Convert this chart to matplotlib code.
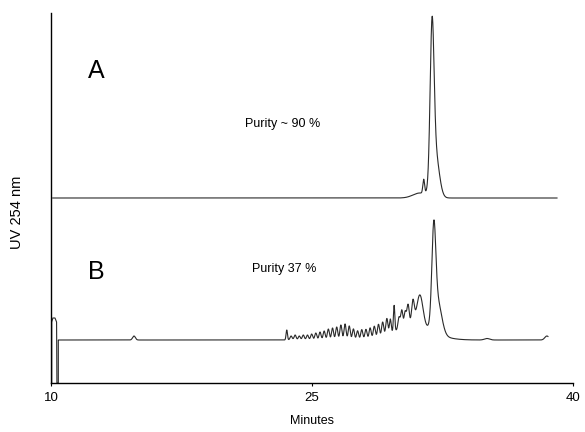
import numpy as np
import matplotlib
matplotlib.use("Agg")
import matplotlib.pyplot as plt

plt.rcParams['font.family'] = ['Liberation Sans', 'DejaVu Sans']

# trace A: baseline and peaks (retention time, height, width)
base_a = 185
a_start, a_end = 10.1, 39.08
peaks_a_t = [31.20, 31.42, 31.90, 32.08]
peaks_a_h = [5, 14, 148, 45]
peaks_a_w = [0.40, 0.05, 0.11, 0.22]

# trace B: injection spike, baseline and peaks
b_start_t = [10.04, 10.04, 10.11, 10.23, 10.32, 10.34, 10.42, 10.42]
b_start_v = [0, 61, 65, 65, 61, 0, 0, 43]
base_b = 43
b_end = 38.56
peaks_b_t = [14.77,
             23.55, 23.80, 24.03, 24.27, 24.50, 24.74, 24.98, 25.22, 25.46,
             25.70, 25.94, 26.18, 26.42, 26.66, 26.90, 27.14, 27.38, 27.62,
             27.86, 28.10, 28.34, 28.58, 28.82, 29.06, 29.30, 29.50,
             29.72, 30.00, 30.16, 30.35, 30.52, 30.80, 31.20,
             30.80, 32.00, 32.20, 35.06, 38.50]
peaks_b_h = [4,
             10, 4, 5, 4, 5, 5, 6, 7, 8,
             9, 11, 12, 13, 15, 16, 14, 11, 9,
             10, 10, 11, 12, 13, 14, 16, 14,
             26, 12, 18, 15, 22, 24, 32,
             14, 88, 34, 1.5, 4]
peaks_b_w = [0.08,
             0.04, 0.06, 0.06, 0.06, 0.06, 0.06, 0.06, 0.06, 0.06,
             0.06, 0.06, 0.06, 0.06, 0.06, 0.06, 0.06, 0.06, 0.06,
             0.06, 0.06, 0.06, 0.06, 0.06, 0.06, 0.06, 0.05,
             0.04, 0.06, 0.06, 0.06, 0.07, 0.08, 0.18,
             1.10, 0.11, 0.24, 0.15, 0.12]


def trace(t, base, pt, ph, pw):
    y = np.full_like(t, base, dtype=float)
    for c, h, w in zip(pt, ph, pw):
        y += h * np.exp(-0.5 * ((t - c) / w) ** 2)
    return y


fig = plt.figure(figsize=(5.85, 4.32), dpi=100)
ax = fig.add_axes([51 / 585, 49 / 432, 522 / 585, 370 / 432])

ta = np.linspace(a_start, a_end, 5000)
ax.plot(ta, trace(ta, base_a, peaks_a_t, peaks_a_h, peaks_a_w), color='#2a2a2a', lw=0.8)

tb = np.linspace(b_start_t[-1], b_end, 5000)
yb = trace(tb, base_b, peaks_b_t, peaks_b_h, peaks_b_w)
ax.plot(np.concatenate([b_start_t, tb]), np.concatenate([b_start_v, yb]),
        color='#2a2a2a', lw=0.8)

ax.set_xlim(10, 40)
ax.set_ylim(0, 370)
ax.set_xticks([10, 25, 40])
ax.set_yticks([])
ax.tick_params(axis='x', length=2.5, width=0.8, labelsize=9.5, pad=4)
ax.spines['top'].set_visible(False)
ax.spines['right'].set_visible(False)
ax.spines['left'].set_linewidth(1.0)
ax.spines['bottom'].set_linewidth(1.0)
ax.patch.set_visible(False)

ax.set_xlabel('Minutes', fontsize=9, labelpad=8)
fig.text(17 / 585, 1 - 212 / 432, 'UV 254 nm', rotation=90, fontsize=10.5,
         ha='center', va='center')

ax.text(12.6, 312, 'A', fontsize=18, ha='center', va='center')
ax.text(12.6, 111, 'B', fontsize=18, ha='center', va='center')
ax.text(23.3, 259, 'Purity ~ 90 %', fontsize=9, ha='center', va='center')
ax.text(23.4, 114, 'Purity 37 %', fontsize=9, ha='center', va='center')

fig.savefig('out.png', dpi=100)
